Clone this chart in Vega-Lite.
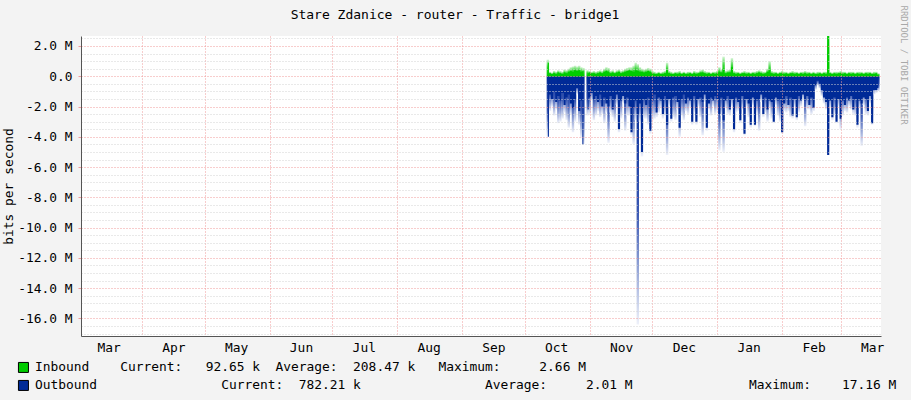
{
  "$schema": "https://vega.github.io/schema/vega-lite/v6.json",
  "width": 800,
  "height": 300,
  "autosize": {"type": "none"},
  "padding": {"left": 81, "top": 36, "right": 30, "bottom": 64},
  "background": "#f3f3f3",
  "view": {"fill": "#ffffff", "stroke": null},
  "title": {"text": "Stare Zdanice - router - Traffic - bridge1", "font": "DejaVu Sans Mono", "fontSize": 13, "fontWeight": "normal", "color": "#000000", "anchor": "middle", "dx": -26, "offset": -17},
  "data": {"values": [
    {"t":"2013-10-12","in":0.9,"inmax":1.1,"out":-4.0,"outmax":-4.0},
    {"t":"2013-10-13","in":0.2,"inmax":0.3,"out":-1.2,"outmax":-2.3},
    {"t":"2013-10-14","in":0.15,"inmax":0.25,"out":-1.5,"outmax":-2.0},
    {"t":"2013-10-15","in":0.2,"inmax":0.35,"out":-1.0,"outmax":-2.6},
    {"t":"2013-10-16","in":0.15,"inmax":0.3,"out":-1.7,"outmax":-2.2},
    {"t":"2013-10-17","in":0.25,"inmax":0.4,"out":-1.3,"outmax":-3.1},
    {"t":"2013-10-18","in":0.2,"inmax":0.35,"out":-1.6,"outmax":-3.0},
    {"t":"2013-10-19","in":0.15,"inmax":0.3,"out":-1.1,"outmax":-2.8},
    {"t":"2013-10-20","in":0.25,"inmax":0.45,"out":-1.9,"outmax":-2.4},
    {"t":"2013-10-21","in":0.2,"inmax":0.4,"out":-1.4,"outmax":-2.9},
    {"t":"2013-10-22","in":0.3,"inmax":0.5,"out":-1.2,"outmax":-3.4},
    {"t":"2013-10-23","in":0.35,"inmax":0.6,"out":-1.8,"outmax":-2.5},
    {"t":"2013-10-24","in":0.3,"inmax":0.65,"out":-2.1,"outmax":-3.7},
    {"t":"2013-10-25","in":0.4,"inmax":0.7,"out":-1.5,"outmax":-3.0},
    {"t":"2013-10-26","in":0.35,"inmax":0.65,"out":-0.8,"outmax":-1.2},
    {"t":"2013-10-27","in":0.4,"inmax":0.7,"out":-2.3,"outmax":-3.2},
    {"t":"2013-10-28","in":0.3,"inmax":0.6,"out":-1.6,"outmax":-4.1},
    {"t":"2013-10-29","in":0.35,"inmax":0.55,"out":-4.5,"outmax":-4.5},
    {"t":"2013-10-30","in":null,"inmax":null,"out":null,"outmax":null},
    {"t":"2013-10-31","in":0.2,"inmax":0.4,"out":-2.2,"outmax":-2.6},
    {"t":"2013-11-01","in":0.25,"inmax":0.35,"out":-1.4,"outmax":-2.5},
    {"t":"2013-11-02","in":0.2,"inmax":0.3,"out":-1.1,"outmax":-1.6},
    {"t":"2013-11-03","in":0.2,"inmax":0.35,"out":-1.5,"outmax":-2.9},
    {"t":"2013-11-04","in":0.15,"inmax":0.3,"out":-1.3,"outmax":-2.6},
    {"t":"2013-11-05","in":0.2,"inmax":0.35,"out":-1.7,"outmax":-2.3},
    {"t":"2013-11-06","in":0.25,"inmax":0.4,"out":-1.2,"outmax":-2.7},
    {"t":"2013-11-07","in":0.2,"inmax":0.35,"out":-2.0,"outmax":-2.5},
    {"t":"2013-11-08","in":0.3,"inmax":0.5,"out":-1.4,"outmax":-3.1},
    {"t":"2013-11-09","in":0.35,"inmax":0.6,"out":-1.8,"outmax":-2.4},
    {"t":"2013-11-10","in":0.3,"inmax":0.55,"out":-2.0,"outmax":-4.4},
    {"t":"2013-11-11","in":0.2,"inmax":0.35,"out":-1.3,"outmax":-2.4},
    {"t":"2013-11-12","in":0.25,"inmax":0.4,"out":-2.2,"outmax":-2.7},
    {"t":"2013-11-13","in":0.2,"inmax":0.3,"out":-1.5,"outmax":-3.0},
    {"t":"2013-11-14","in":0.25,"inmax":0.4,"out":-1.2,"outmax":-1.9},
    {"t":"2013-11-15","in":0.3,"inmax":0.45,"out":-3.5,"outmax":-3.7},
    {"t":"2013-11-16","in":0.2,"inmax":0.35,"out":-1.6,"outmax":-2.8},
    {"t":"2013-11-17","in":0.25,"inmax":0.4,"out":-1.3,"outmax":-1.8},
    {"t":"2013-11-18","in":0.3,"inmax":0.5,"out":-1.8,"outmax":-3.6},
    {"t":"2013-11-19","in":0.35,"inmax":0.55,"out":-1.4,"outmax":-2.6},
    {"t":"2013-11-20","in":0.4,"inmax":0.6,"out":-2.0,"outmax":-2.6},
    {"t":"2013-11-21","in":0.35,"inmax":0.6,"out":-3.7,"outmax":-3.9},
    {"t":"2013-11-22","in":0.3,"inmax":0.7,"out":-2.1,"outmax":-4.5},
    {"t":"2013-11-23","in":0.4,"inmax":0.9,"out":-1.6,"outmax":-2.9},
    {"t":"2013-11-24","in":0.35,"inmax":0.8,"out":-2.5,"outmax":-16.4},
    {"t":"2013-11-25","in":0.3,"inmax":0.6,"out":-1.8,"outmax":-3.0},
    {"t":"2013-11-26","in":0.3,"inmax":0.5,"out":-5.0,"outmax":-5.3},
    {"t":"2013-11-27","in":0.25,"inmax":0.45,"out":-1.5,"outmax":-2.8},
    {"t":"2013-11-28","in":0.3,"inmax":0.5,"out":-1.9,"outmax":-2.8},
    {"t":"2013-11-29","in":0.35,"inmax":0.55,"out":-1.4,"outmax":-3.2},
    {"t":"2013-11-30","in":0.3,"inmax":0.5,"out":-3.6,"outmax":-3.8},
    {"t":"2013-12-01","in":0.2,"inmax":0.35,"out":-1.6,"outmax":-2.9},
    {"t":"2013-12-02","in":0.15,"inmax":0.3,"out":-1.2,"outmax":-2.8},
    {"t":"2013-12-03","in":0.15,"inmax":0.25,"out":-2.4,"outmax":-2.7},
    {"t":"2013-12-04","in":0.2,"inmax":0.3,"out":-1.4,"outmax":-2.4},
    {"t":"2013-12-05","in":0.15,"inmax":0.25,"out":-1.6,"outmax":-2.1},
    {"t":"2013-12-06","in":0.15,"inmax":0.3,"out":-2.5,"outmax":-2.8},
    {"t":"2013-12-07","in":0.2,"inmax":0.35,"out":-1.3,"outmax":-2.6},
    {"t":"2013-12-08","in":0.4,"inmax":0.9,"out":-3.2,"outmax":-5.2},
    {"t":"2013-12-09","in":0.2,"inmax":0.35,"out":-1.5,"outmax":-2.0},
    {"t":"2013-12-10","in":0.15,"inmax":0.3,"out":-2.8,"outmax":-3.0},
    {"t":"2013-12-11","in":0.15,"inmax":0.25,"out":-1.4,"outmax":-2.7},
    {"t":"2013-12-12","in":0.2,"inmax":0.3,"out":-1.3,"outmax":-2.9},
    {"t":"2013-12-13","in":0.15,"inmax":0.3,"out":-1.7,"outmax":-2.2},
    {"t":"2013-12-14","in":0.2,"inmax":0.35,"out":-3.4,"outmax":-4.0},
    {"t":"2013-12-15","in":0.15,"inmax":0.25,"out":-1.5,"outmax":-2.6},
    {"t":"2013-12-16","in":0.2,"inmax":0.3,"out":-1.2,"outmax":-2.9},
    {"t":"2013-12-17","in":0.15,"inmax":0.25,"out":-1.8,"outmax":-2.3},
    {"t":"2013-12-18","in":0.15,"inmax":0.3,"out":-1.4,"outmax":-2.5},
    {"t":"2013-12-19","in":0.2,"inmax":0.3,"out":-1.6,"outmax":-2.1},
    {"t":"2013-12-20","in":0.15,"inmax":0.25,"out":-3.0,"outmax":-3.2},
    {"t":"2013-12-21","in":0.2,"inmax":0.35,"out":-1.3,"outmax":-2.4},
    {"t":"2013-12-22","in":0.15,"inmax":0.3,"out":-3.0,"outmax":-3.2},
    {"t":"2013-12-23","in":0.2,"inmax":0.3,"out":-1.5,"outmax":-2.0},
    {"t":"2013-12-24","in":0.25,"inmax":0.4,"out":-1.4,"outmax":-2.7},
    {"t":"2013-12-25","in":0.25,"inmax":0.45,"out":-1.7,"outmax":-3.9},
    {"t":"2013-12-26","in":0.2,"inmax":0.35,"out":-1.2,"outmax":-1.7},
    {"t":"2013-12-27","in":0.15,"inmax":0.3,"out":-3.4,"outmax":-3.6},
    {"t":"2013-12-28","in":0.2,"inmax":0.3,"out":-1.8,"outmax":-2.2},
    {"t":"2013-12-29","in":0.15,"inmax":0.25,"out":-1.4,"outmax":-2.6},
    {"t":"2013-12-30","in":0.2,"inmax":0.3,"out":-1.6,"outmax":-2.0},
    {"t":"2013-12-31","in":0.15,"inmax":0.3,"out":-1.3,"outmax":-2.5},
    {"t":"2014-01-01","in":0.2,"inmax":0.35,"out":-1.5,"outmax":-2.3},
    {"t":"2014-01-02","in":0.3,"inmax":0.6,"out":-2.5,"outmax":-4.9},
    {"t":"2014-01-03","in":0.25,"inmax":0.45,"out":-1.4,"outmax":-2.6},
    {"t":"2014-01-04","in":0.5,"inmax":1.3,"out":-2.9,"outmax":-5.0},
    {"t":"2014-01-05","in":0.2,"inmax":0.35,"out":-1.6,"outmax":-2.1},
    {"t":"2014-01-06","in":0.25,"inmax":0.4,"out":-1.3,"outmax":-2.5},
    {"t":"2014-01-07","in":0.25,"inmax":0.45,"out":-2.2,"outmax":-2.6},
    {"t":"2014-01-08","in":0.6,"inmax":1.2,"out":-1.5,"outmax":-2.0},
    {"t":"2014-01-09","in":0.2,"inmax":0.35,"out":-3.5,"outmax":-3.7},
    {"t":"2014-01-10","in":0.15,"inmax":0.3,"out":-1.4,"outmax":-2.4},
    {"t":"2014-01-11","in":0.2,"inmax":0.3,"out":-1.7,"outmax":-2.3},
    {"t":"2014-01-12","in":0.15,"inmax":0.25,"out":-2.9,"outmax":-3.1},
    {"t":"2014-01-13","in":0.2,"inmax":0.3,"out":-1.3,"outmax":-2.2},
    {"t":"2014-01-14","in":0.2,"inmax":0.35,"out":-3.8,"outmax":-3.9},
    {"t":"2014-01-15","in":0.15,"inmax":0.3,"out":-1.5,"outmax":-2.0},
    {"t":"2014-01-16","in":0.2,"inmax":0.3,"out":-1.8,"outmax":-2.7},
    {"t":"2014-01-17","in":0.15,"inmax":0.25,"out":-3.2,"outmax":-3.4},
    {"t":"2014-01-18","in":0.2,"inmax":0.3,"out":-1.4,"outmax":-1.9},
    {"t":"2014-01-19","in":0.15,"inmax":0.3,"out":-3.2,"outmax":-3.3},
    {"t":"2014-01-20","in":0.2,"inmax":0.35,"out":-1.6,"outmax":-2.5},
    {"t":"2014-01-21","in":0.25,"inmax":0.4,"out":-1.5,"outmax":-3.6},
    {"t":"2014-01-22","in":0.2,"inmax":0.35,"out":-1.2,"outmax":-1.7},
    {"t":"2014-01-23","in":0.15,"inmax":0.3,"out":-2.5,"outmax":-2.7},
    {"t":"2014-01-24","in":0.2,"inmax":0.3,"out":-1.4,"outmax":-2.4},
    {"t":"2014-01-25","in":0.3,"inmax":0.5,"out":-2.2,"outmax":-3.0},
    {"t":"2014-01-26","in":0.4,"inmax":1.0,"out":-1.6,"outmax":-2.1},
    {"t":"2014-01-27","in":0.2,"inmax":0.35,"out":-1.7,"outmax":-2.8},
    {"t":"2014-01-28","in":0.15,"inmax":0.3,"out":-3.0,"outmax":-3.1},
    {"t":"2014-01-29","in":0.2,"inmax":0.3,"out":-1.4,"outmax":-1.9},
    {"t":"2014-01-30","in":0.15,"inmax":0.25,"out":-1.6,"outmax":-2.6},
    {"t":"2014-01-31","in":0.2,"inmax":0.3,"out":-1.5,"outmax":-3.0},
    {"t":"2014-02-01","in":0.2,"inmax":0.35,"out":-3.7,"outmax":-3.8},
    {"t":"2014-02-02","in":0.15,"inmax":0.3,"out":-1.8,"outmax":-2.3},
    {"t":"2014-02-03","in":0.2,"inmax":0.3,"out":-1.3,"outmax":-2.4},
    {"t":"2014-02-04","in":0.15,"inmax":0.25,"out":-1.9,"outmax":-2.3},
    {"t":"2014-02-05","in":0.2,"inmax":0.3,"out":-1.4,"outmax":-2.7},
    {"t":"2014-02-06","in":0.2,"inmax":0.35,"out":-2.6,"outmax":-2.8},
    {"t":"2014-02-07","in":0.15,"inmax":0.3,"out":-1.5,"outmax":-2.0},
    {"t":"2014-02-08","in":0.2,"inmax":0.3,"out":-2.7,"outmax":-2.9},
    {"t":"2014-02-09","in":0.15,"inmax":0.25,"out":-1.3,"outmax":-2.4},
    {"t":"2014-02-10","in":0.2,"inmax":0.3,"out":-1.6,"outmax":-2.0},
    {"t":"2014-02-11","in":0.15,"inmax":0.3,"out":-1.2,"outmax":-1.6},
    {"t":"2014-02-12","in":0.2,"inmax":0.35,"out":-1.6,"outmax":-3.3},
    {"t":"2014-02-13","in":0.15,"inmax":0.3,"out":-1.3,"outmax":-2.2},
    {"t":"2014-02-14","in":0.2,"inmax":0.3,"out":-1.9,"outmax":-2.2},
    {"t":"2014-02-15","in":0.15,"inmax":0.25,"out":-1.4,"outmax":-2.5},
    {"t":"2014-02-16","in":0.2,"inmax":0.3,"out":-2.1,"outmax":-2.3},
    {"t":"2014-02-17","in":0.15,"inmax":0.25,"out":-0.6,"outmax":-0.9},
    {"t":"2014-02-18","in":0.15,"inmax":0.3,"out":-0.3,"outmax":-0.6},
    {"t":"2014-02-19","in":0.2,"inmax":0.3,"out":-0.5,"outmax":-0.8},
    {"t":"2014-02-20","in":0.15,"inmax":0.25,"out":-0.9,"outmax":-1.3},
    {"t":"2014-02-21","in":0.2,"inmax":0.3,"out":-1.4,"outmax":-1.8},
    {"t":"2014-02-22","in":0.15,"inmax":0.3,"out":-1.7,"outmax":-2.2},
    {"t":"2014-02-23","in":2.66,"inmax":2.66,"out":-5.2,"outmax":-5.2},
    {"t":"2014-02-24","in":0.2,"inmax":0.3,"out":-1.6,"outmax":-2.1},
    {"t":"2014-02-25","in":0.15,"inmax":0.25,"out":-2.7,"outmax":-2.9},
    {"t":"2014-02-26","in":0.2,"inmax":0.3,"out":-1.4,"outmax":-2.5},
    {"t":"2014-02-27","in":0.15,"inmax":0.3,"out":-3.0,"outmax":-3.1},
    {"t":"2014-02-28","in":0.2,"inmax":0.3,"out":-1.5,"outmax":-2.0},
    {"t":"2014-03-01","in":0.2,"inmax":0.35,"out":-2.8,"outmax":-3.5},
    {"t":"2014-03-02","in":0.15,"inmax":0.3,"out":-1.6,"outmax":-2.6},
    {"t":"2014-03-03","in":0.2,"inmax":0.3,"out":-1.9,"outmax":-2.3},
    {"t":"2014-03-04","in":0.15,"inmax":0.25,"out":-1.4,"outmax":-2.4},
    {"t":"2014-03-05","in":0.2,"inmax":0.3,"out":-1.6,"outmax":-2.0},
    {"t":"2014-03-06","in":0.15,"inmax":0.3,"out":-1.3,"outmax":-2.2},
    {"t":"2014-03-07","in":0.2,"inmax":0.3,"out":-2.2,"outmax":-2.5},
    {"t":"2014-03-08","in":0.15,"inmax":0.25,"out":-1.5,"outmax":-2.6},
    {"t":"2014-03-09","in":0.2,"inmax":0.3,"out":-3.2,"outmax":-3.4},
    {"t":"2014-03-10","in":0.15,"inmax":0.3,"out":-1.6,"outmax":-2.1},
    {"t":"2014-03-11","in":0.2,"inmax":0.3,"out":-1.8,"outmax":-4.6},
    {"t":"2014-03-12","in":0.15,"inmax":0.25,"out":-1.4,"outmax":-1.9},
    {"t":"2014-03-13","in":0.2,"inmax":0.3,"out":-1.5,"outmax":-2.5},
    {"t":"2014-03-14","in":0.15,"inmax":0.3,"out":-2.3,"outmax":-2.6},
    {"t":"2014-03-15","in":0.2,"inmax":0.3,"out":-1.3,"outmax":-1.8},
    {"t":"2014-03-16","in":0.15,"inmax":0.25,"out":-3.1,"outmax":-3.2},
    {"t":"2014-03-17","in":0.15,"inmax":0.3,"out":-0.9,"outmax":-1.2},
    {"t":"2014-03-18","in":0.2,"inmax":0.3,"out":-0.9,"outmax":-1.1},
    {"t":"2014-03-19","in":0.09,"inmax":0.2,"out":-0.78,"outmax":-1.0}
  ]},
  "encoding": {
    "x": {
      "field": "t", "type": "temporal",
      "scale": {"type": "utc", "padding": 0, "domain": [{"year": 2013, "month": 3, "date": 2, "hours": 20, "utc": true}, {"year": 2014, "month": 3, "date": 20, "hours": 6, "utc": true}]},
      "axis": {
        "title": null,
        "values": [
          {"year": 2013, "month": 3, "date": 16, "utc": true},
          {"year": 2013, "month": 4, "date": 1, "utc": true},
          {"year": 2013, "month": 4, "date": 16, "utc": true},
          {"year": 2013, "month": 5, "date": 1, "utc": true},
          {"year": 2013, "month": 5, "date": 16, "utc": true},
          {"year": 2013, "month": 6, "date": 1, "utc": true},
          {"year": 2013, "month": 6, "date": 16, "utc": true},
          {"year": 2013, "month": 7, "date": 1, "utc": true},
          {"year": 2013, "month": 7, "date": 16, "utc": true},
          {"year": 2013, "month": 8, "date": 1, "utc": true},
          {"year": 2013, "month": 8, "date": 16, "utc": true},
          {"year": 2013, "month": 9, "date": 1, "utc": true},
          {"year": 2013, "month": 9, "date": 16, "utc": true},
          {"year": 2013, "month": 10, "date": 1, "utc": true},
          {"year": 2013, "month": 10, "date": 16, "utc": true},
          {"year": 2013, "month": 11, "date": 1, "utc": true},
          {"year": 2013, "month": 11, "date": 16, "utc": true},
          {"year": 2013, "month": 12, "date": 1, "utc": true},
          {"year": 2013, "month": 12, "date": 16, "utc": true},
          {"year": 2014, "month": 1, "date": 1, "utc": true},
          {"year": 2014, "month": 1, "date": 16, "utc": true},
          {"year": 2014, "month": 2, "date": 1, "utc": true},
          {"year": 2014, "month": 2, "date": 16, "utc": true},
          {"year": 2014, "month": 3, "date": 1, "utc": true},
          {"year": 2014, "month": 3, "date": 16, "utc": true}
        ],
        "labelExpr": "utcdate(datum.value) == 16 ? utcFormat(datum.value, '%b') : ''",
        "labelOverlap": false,
        "labelFlush": false,
        "labelBound": false,
        "ticks": false,
        "labelPadding": 5,
        "labelFont": "DejaVu Sans Mono",
        "labelFontSize": 12.9,
        "labelColor": "#000000",
        "domainColor": "#555555",
        "grid": true,
        "gridColor": {"condition": {"test": "utcdate(datum.value) == 1", "value": "#f09a9a"}, "value": "transparent"},
        "gridDash": [1, 2],
        "gridWidth": 1,
        "zindex": 1
      }
    }
  },
  "resolve": {"axis": {"y": "independent"}},
  "layer": [
    {
      "mark": {"type": "bar", "width": 2.4, "color": {"gradient": "linear", "x1": 0, "y1": 0, "x2": 0, "y2": 1, "stops": [{"offset": 0, "color": "#002A97"}, {"offset": 0.55, "color": "#3a58b3"}, {"offset": 1, "color": "#eef1fa"}]}},
      "encoding": {
        "y": {
          "field": "outmax", "type": "quantitative",
          "scale": {"domain": [-17.16, 2.66], "nice": false, "zero": false},
          "axis": {
            "orient": "left",
            "title": "bits per second",
            "titleFont": "DejaVu Sans Mono",
            "titleFontSize": 12.9,
            "titleFontWeight": "normal",
            "titleColor": "#000000",
            "titlePadding": 2,
            "values": [-17, -16.5, -16, -15.5, -15, -14.5, -14, -13.5, -13, -12.5, -12, -11.5, -11, -10.5, -10, -9.5, -9, -8.5, -8, -7.5, -7, -6.5, -6, -5.5, -5, -4.5, -4, -3.5, -3, -2.5, -2, -1.5, -1, -0.5, 0, 0.5, 1, 1.5, 2, 2.5],
            "labelExpr": "datum.value % 2 == 0 ? (datum.value == 0 ? '0.0\u00a0\u00a0' : (datum.value < 0 ? '-' : '') + format(abs(datum.value), '.1f') + '\u00a0M') : ''",
            "labelOverlap": false,
            "labelFont": "DejaVu Sans Mono",
            "labelFontSize": 12.9,
            "labelColor": "#000000",
            "labelPadding": 6,
            "labelBaseline": "middle",
            "tickSize": 3,
            "tickColor": {"condition": {"test": "datum.value % 2 == 0", "value": "#f09a9a"}, "value": "transparent"},
            "domainColor": "#555555",
            "grid": true,
            "gridColor": {"condition": {"test": "datum.value % 2 == 0", "value": "#f09a9a"}, "value": "#d2d2d2"},
            "gridDash": [1, 2],
            "gridWidth": 1,
            "zindex": 1
          }
        }
      }
    },
    {
      "mark": {"type": "area", "interpolate": "step", "opacity": 1},
      "encoding": {
        "y": {
          "field": "out", "type": "quantitative", "stack": null,
          "scale": {"domain": [-17.16, 2.66], "nice": false, "zero": false},
          "axis": {
            "orient": "right",
            "title": "RRDTOOL / TOBI OETIKER",
            "labels": false, "ticks": false, "domain": false, "grid": false,
            "titleAngle": 90,
            "titleFont": "DejaVu Sans Mono",
            "titleFontSize": 9,
            "titleFontWeight": "normal",
            "titleColor": "#a8a8a8",
            "titleX": 22,
            "titleY": -31,
            "titleAlign": "left",
            "titleBaseline": "middle"
          }
        },
        "color": {
          "datum": "Outbound",
          "scale": {"domain": ["Inbound", "Outbound"], "range": ["#00CC00", "#002A97"]},
          "legend": {
            "orient": "none", "legendX": -64, "legendY": 325, "direction": "vertical",
            "title": null, "padding": 0,
            "symbolType": "square", "symbolSize": 100, "symbolStrokeColor": "#000000", "symbolStrokeWidth": 1, "symbolOpacity": 1,
            "labelFont": "DejaVu Sans Mono", "labelFontSize": 12.9, "labelColor": "#000000", "labelLimit": 2000, "labelOffset": 5,
            "rowPadding": 3,
            "labelExpr": "datum.label == 'Inbound' ? 'Inbound\u00a0\u00a0\u00a0\u00a0Current:\u00a0\u00a0\u00a092.65\u00a0k\u00a0\u00a0Average:\u00a0\u00a0208.47\u00a0k\u00a0\u00a0\u00a0Maximum:\u00a0\u00a0\u00a0\u00a0\u00a02.66\u00a0M' : 'Outbound\u00a0\u00a0\u00a0\u00a0\u00a0\u00a0\u00a0\u00a0\u00a0\u00a0\u00a0\u00a0\u00a0\u00a0\u00a0\u00a0Current:\u00a0\u00a0782.21\u00a0k\u00a0\u00a0\u00a0\u00a0\u00a0\u00a0\u00a0\u00a0\u00a0\u00a0\u00a0\u00a0\u00a0\u00a0\u00a0\u00a0Average:\u00a0\u00a0\u00a0\u00a0\u00a02.01\u00a0M\u00a0\u00a0\u00a0\u00a0\u00a0\u00a0\u00a0\u00a0\u00a0\u00a0\u00a0\u00a0\u00a0\u00a0\u00a0Maximum:\u00a0\u00a0\u00a0\u00a017.16\u00a0M'"
          }
        }
      }
    },
    {
      "mark": {"type": "bar", "width": 2.4, "color": {"gradient": "linear", "x1": 0, "y1": 1, "x2": 0, "y2": 0, "stops": [{"offset": 0, "color": "#00CC00"}, {"offset": 0.55, "color": "#33d633"}, {"offset": 1, "color": "#d6f5d6"}]}},
      "encoding": {
        "y": {"field": "inmax", "type": "quantitative", "scale": {"domain": [-17.16, 2.66], "nice": false, "zero": false}, "axis": null}
      }
    },
    {
      "mark": {"type": "area", "interpolate": "step"},
      "encoding": {
        "y": {"field": "in", "type": "quantitative", "stack": null, "scale": {"domain": [-17.16, 2.66], "nice": false, "zero": false}, "axis": null},
        "color": {"datum": "Inbound"}
      }
    }
  ]
}
